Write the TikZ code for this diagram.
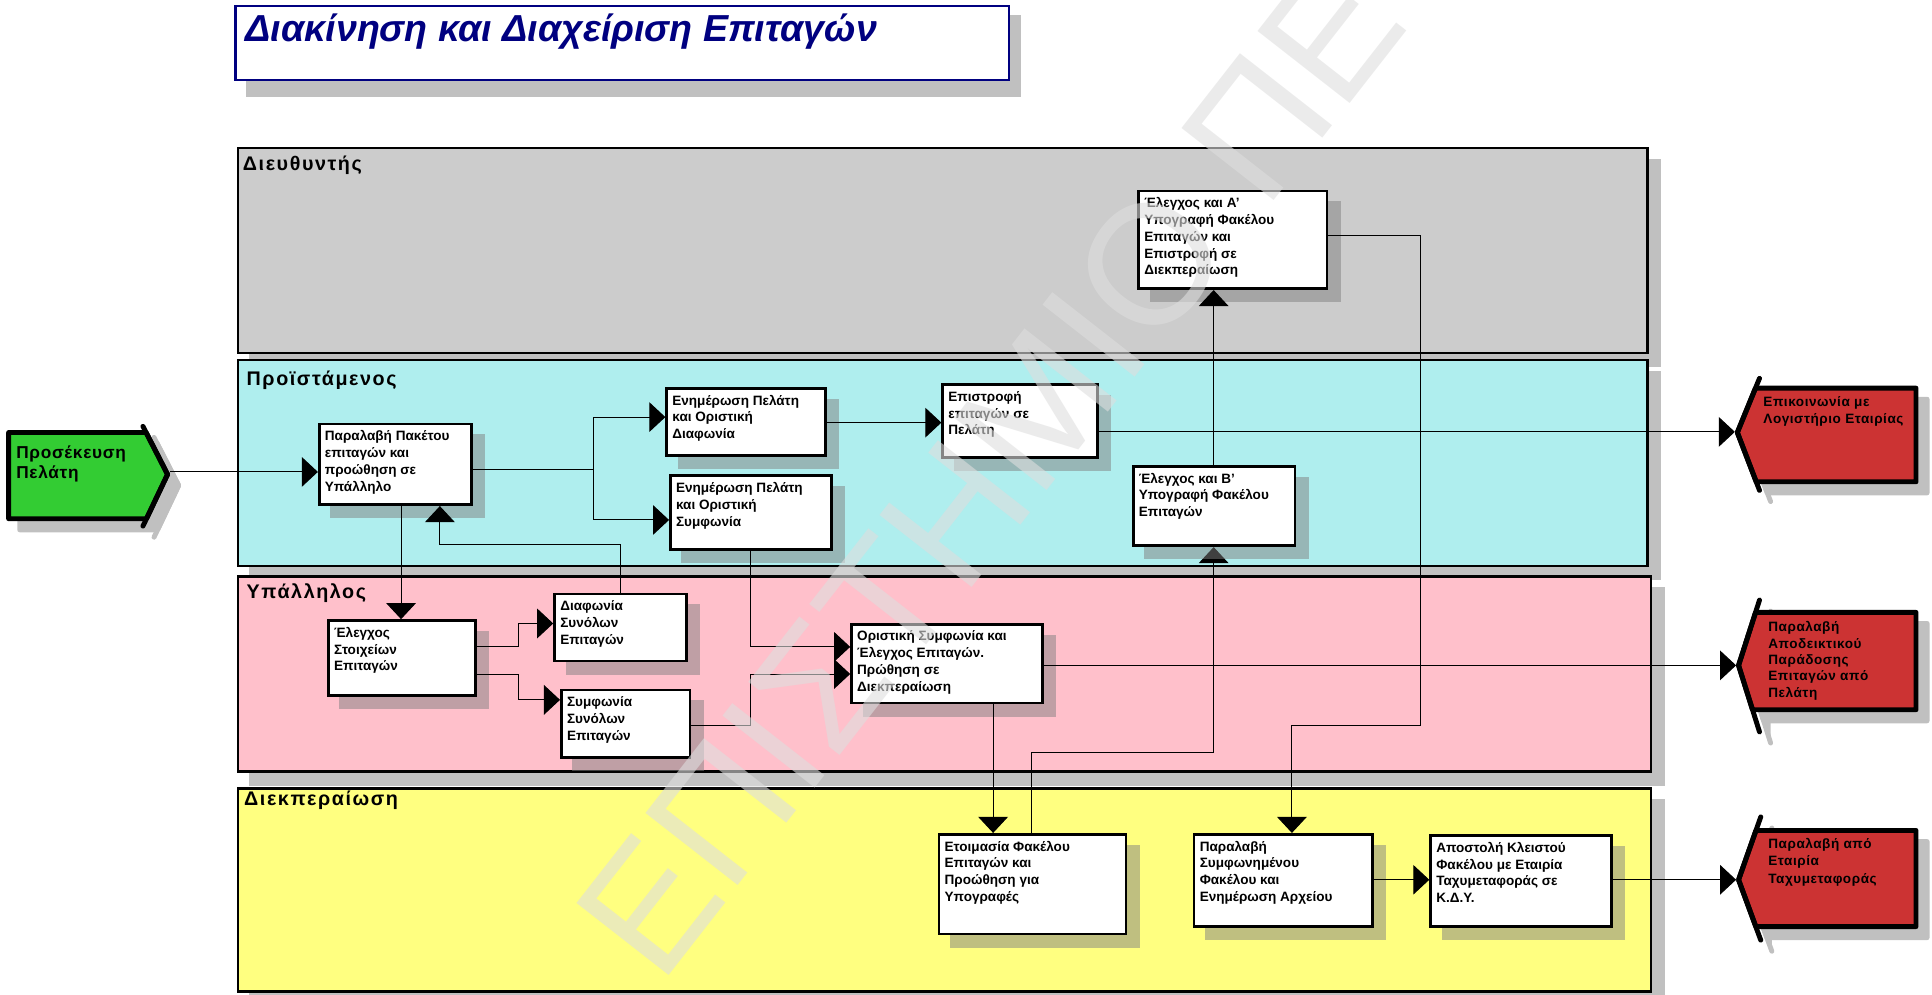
\documentclass[tikz,border=0pt]{standalone}
\usepackage{fontspec}
\setmainfont{Liberation Sans}
\newfontfamily\lanefont[LetterSpace=8]{Liberation Sans}
\newfontfamily\termfont[LetterSpace=4]{Liberation Sans}
\usetikzlibrary{arrows.meta}
\pgfdeclarelayer{bg}
\pgfdeclarelayer{shad}
\pgfdeclarelayer{conn}
\pgfdeclarelayer{shadtop}
\pgfdeclarelayer{top}
\pgfsetlayers{bg,shad,conn,shadtop,main,top}
\definecolor{navy}{HTML}{000080}
\definecolor{laneA}{HTML}{CCCCCC}
\definecolor{laneB}{HTML}{AFEEEE}
\definecolor{laneC}{HTML}{FFC0CB}
\definecolor{laneD}{HTML}{FFFF80}
\definecolor{shadowgray}{HTML}{C0C0C0}
\definecolor{termgreen}{HTML}{33CC33}
\definecolor{termred}{HTML}{CC3333}
\definecolor{wmark}{HTML}{DEDEDE}
\newcommand\procnode[7][shad]{%
  \begin{pgfonlayer}{#1}\fill[boxshadow] (#3+10,#4+9.5) rectangle (#5+10,#6+10);\end{pgfonlayer}
  \node[procbox, minimum width=#5-#3-2.2, minimum height=#6-#4-2.2] (#2) at (#3,#4) {};
  \node[proctext] (#2-t) at ([shift={(5.5,4.5)}]#2.north west) {\rule{0pt}{10pt}#7};
}
\begin{document}
\begin{tikzpicture}[x=1pt,y=-1pt,
  lane/.style={draw=black, line width=2.2pt, inner sep=0pt, anchor=north west},
  laneshadow/.style={fill=shadowgray},
  lanelabel/.style={anchor=base west, inner sep=0pt, font=\lanefont\bfseries\fontsize{16}{19}\selectfont},
  procbox/.style={draw=black, fill=white, line width=2.2pt, inner sep=0pt, anchor=north west},
  proctext/.style={anchor=north west, inner sep=0pt, align=left, font=\bfseries\fontsize{11}{13.6}\selectfont},
  boxshadow/.style={fill=gray, fill opacity=0.5},
  conn/.style={line width=0.8pt, -{Triangle[length=13pt,width=24pt]}},
  termborder/.style={draw=black, line width=4pt, line join=round},
  termedge/.style={draw=black, line width=4pt, line join=round, line cap=round},
  termshadow/.style={fill=shadowgray, draw=shadowgray, line width=4pt, line join=round, line cap=round},
  termtext/.style={anchor=north west, inner sep=0pt, align=left},
  wm/.style={text=wmark, opacity=0.6, font=\fontsize{138}{138}\selectfont, inner sep=0pt}
]
\useasboundingbox (0,0) rectangle (1568,807);
\clip (0,0) rectangle (1568,807);

% ---------- lanes ----------
\begin{pgfonlayer}{bg}
\fill[laneshadow] (202,129) rectangle (1348,297.5);
\fill[laneshadow] (202,301) rectangle (1348,470.5);
\fill[laneshadow] (202,476.5) rectangle (1351,637.6);
\fill[laneshadow] (202,648.6) rectangle (1351,815);
\node[lane, fill=laneA, minimum width=1146-2.2, minimum height=168.5-2.2] (L1) at (192,119) {};
\node[lane, fill=laneB, minimum width=1146-2.2, minimum height=169.5-2.2] (L2) at (192,291) {};
\node[lane, fill=laneC, minimum width=1149-2.2, minimum height=161-2.2] (L3) at (192,466.5) {};
\node[lane, fill=laneD, minimum width=1149-2.2, minimum height=167-2.2] (L4) at (192,638.6) {};
\node[lanelabel] (l1) at (197,138) {Διευθυντής};
\node[lanelabel] (l2) at (200,312.5) {Προϊστάμενος};
\node[lanelabel] (l3) at (200,486) {Υπάλληλος};
\node[lanelabel] (l4) at (198,654) {Διεκπεραίωση};
% title shadow and terminal shadows
\fill[laneshadow] (200,12) rectangle (829,78.5);
\path[termshadow] (16,360) -- (127.6,360) -- (145,394) -- (127.9,430) -- (16,430) -- cycle;
\path[termshadow] (125,355) -- (145,394) -- (125,436);
\path[termshadow] (1433.7,324) -- (1564,324) -- (1564,400) -- (1434.3,400) -- (1419,360) -- cycle;
\path[termshadow] (1437,316) -- (1419,360) -- (1437,407);
\path[termshadow] (1433.8,506) -- (1564,506) -- (1564,585) -- (1431.3,585) -- (1420,549) -- cycle;
\path[termshadow] (1437,496) -- (1420,549) -- (1437,603);
\path[termshadow] (1434.1,683) -- (1564,683) -- (1564,761) -- (1434,761) -- (1420,723) -- cycle;
\path[termshadow] (1438,672) -- (1420,723) -- (1438,772);
\end{pgfonlayer}

% ---------- title ----------
\node[draw=navy, fill=white, line width=2pt, inner sep=0pt, anchor=north west, minimum width=628, minimum height=60] (titlebox) at (190,4) {};
\node[anchor=base west, inner sep=0pt, text=navy, font=\bfseries\itshape\fontsize{30.5}{30.5}\selectfont] (title) at (199,34) {Διακίνηση και Διαχείριση Επιταγών};

% ---------- process boxes ----------
\procnode{b1}{258}{343}{384}{410.7}{Παραλαβή Πακέτου\\επιταγών και\\προώθηση σε\\Υπάλληλο}
\procnode{b2}{540}{314}{671}{371}{Ενημέρωση Πελάτη\\και Οριστική\\Διαφωνία}
\procnode{b3}{543}{385}{676}{447}{Ενημέρωση Πελάτη\\και Οριστική\\Συμφωνία}
\procnode{b4}{764}{311}{892}{372.6}{Επιστροφή\\επιταγών σε\\Πελάτη}
\procnode{b5}{923}{154}{1078}{235.4}{Έλεγχος και Α'\\Υπογραφή Φακέλου\\Επιταγών και\\Επιστροφή σε\\Διεκπεραίωση}
\procnode[shadtop]{b6}{918.6}{377.4}{1052}{444}{Έλεγχος και Β'\\Υπογραφή Φακέλου\\Επιταγών}
\procnode{b7}{265.5}{502.5}{387}{565.6}{Έλεγχος\\Στοιχείων\\Επιταγών}
\procnode{b8}{449}{481}{558.5}{537.5}{Διαφωνία\\Συνόλων\\Επιταγών}
\procnode{b9}{454.5}{559}{561}{616}{Συμφωνία\\Συνόλων\\Επιταγών}
\procnode{b10}{690}{505.5}{847}{571.6}{Οριστική Συμφωνία και\\Έλεγχος Επιταγών.\\Πρώθηση σε\\Διεκπεραίωση}
\procnode{b11}{761}{676}{915}{759}{Ετοιμασία Φακέλου\\Επιταγών και\\Προώθηση για\\Υπογραφές}
\procnode{b12}{968}{676}{1115}{753}{Παραλαβή\\Συμφωνημένου\\Φακέλου και\\Ενημέρωση Αρχείου}
\procnode{b13}{1160}{677}{1309}{753}{Αποστολή Κλειστού\\Φακέλου με Εταιρία\\Ταχυμεταφοράς σε\\Κ.Δ.Υ.}

% ---------- terminals ----------
\path[fill=termgreen, termborder] (7,351) -- (118.6,351) -- (136,385) -- (118.9,421) -- (7,421) -- cycle;
\draw[termedge] (116,346) -- (136,385) -- (116,427);
\node[termtext, font=\termfont\bfseries\fontsize{14}{16}\selectfont] (green) at (13,360) {\rule{0pt}{12pt}Προσέκευση\\Πελάτη};
\coordinate (gtip) at (138,383);

\path[fill=termred, termborder] (1424.7,315) -- (1555,315) -- (1555,391) -- (1425.3,391) -- (1410,351) -- cycle;
\draw[termedge] (1428,307) -- (1410,351) -- (1428,398);
\node[termtext, font=\termfont\bfseries\fontsize{11}{13.2}\selectfont] (red1) at (1431,320) {\rule{0pt}{10pt}Επικοινωνία με\\Λογιστήριο Εταιρίας};
\coordinate (r1tip) at (1408,350.5);

\path[fill=termred, termborder] (1424.8,497) -- (1555,497) -- (1555,576) -- (1422.3,576) -- (1411,540) -- cycle;
\draw[termedge] (1428,487) -- (1411,540) -- (1428,594);
\node[termtext, font=\termfont\bfseries\fontsize{11}{13.2}\selectfont] (red2) at (1435,502.7) {\rule{0pt}{10pt}Παραλαβή\\Αποδεικτικού\\Παράδοσης\\Επιταγών από\\Πελάτη};
\coordinate (r2tip) at (1409,540);

\path[fill=termred, termborder] (1425.1,674) -- (1555,674) -- (1555,752) -- (1425,752) -- (1411,714) -- cycle;
\draw[termedge] (1429,663) -- (1411,714) -- (1429,763);
\node[termtext, font=\termfont\bfseries\fontsize{11}{14}\selectfont] (red3) at (1435,678.6) {\rule{0pt}{10pt}Παραλαβή από\\Εταιρία\\Ταχυμεταφοράς};
\coordinate (r3tip) at (1409,714);

% ---------- connectors ----------
\begin{pgfonlayer}{conn}
\draw[conn] (gtip) -- (b1.west |- gtip);
\draw[conn] (b1.east |- 0,381) -- (482,381) |- (b2.west |- 0,338.5);
\draw[conn] (b1.east |- 0,381) -- (482,381) |- (b3.west |- 0,422);
\draw[conn] (b2.east |- 0,343) -- (b4.west |- 0,343);
\draw[conn] (b4.east |- 0,350.5) -- (r1tip);
\draw[conn] (b1.south -| 325.5,0) -- (b7.north -| 325.5,0);
\draw[conn] (b8.north -| 503.5,0) |- (357,441.5) -- (b1.south -| 357,0);
\draw[conn] (b7.east |- 0,525) -- (421,525) |- (b8.west |- 0,506);
\draw[conn] (b7.east |- 0,547) -- (421,547) |- (b9.west |- 0,568);
\draw[conn] (b3.south -| 609,0) |- (b10.west |- 0,525);
\draw[conn] (b9.east |- 0,589) -- (609,589) |- (b10.west |- 0,547);
\draw[conn] (b10.east |- 0,540) -- (r2tip);
\draw[conn] (b10.south -| 806,0) -- (b11.north -| 806,0);
\draw[conn] (b11.north -| 837.5,0) |- (985,611) -- (b6.south -| 985,0);
\draw[conn] (b6.north -| 985,0) -- (b5.south -| 985,0);
\draw[conn] (b5.east |- 0,191.3) -- (1152.5,191.3) -- (1152.5,589) -- (1048.5,589) -- (b12.north -| 1048.5,0);
\draw[conn] (b12.east |- 0,714) -- (b13.west |- 0,714);
\draw[conn] (b13.east |- 0,714) -- (r3tip);
\end{pgfonlayer}

% ---------- watermark ----------
\begin{pgfonlayer}{top}
\node[wm, rotate=52] (wmk) at (803,381) {ΕΠΙΣΤΗΜΙΟ ΠΕ};
\end{pgfonlayer}
\end{tikzpicture}
\end{document}
